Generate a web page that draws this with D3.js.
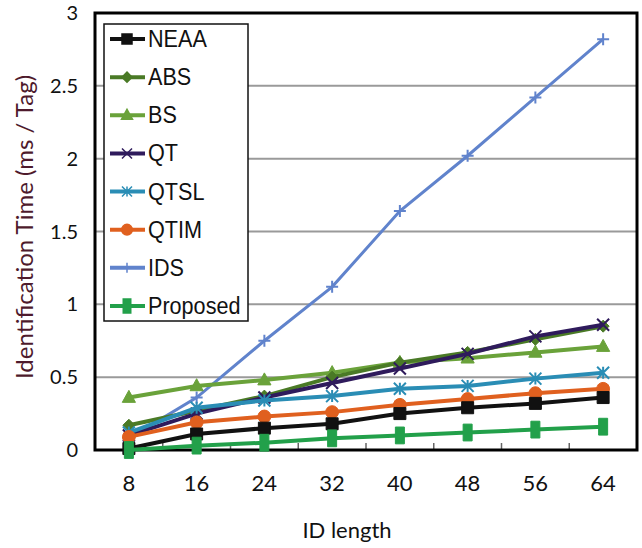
<!DOCTYPE html>
<html>
<head>
<meta charset="utf-8">
<script src="https://cdn.jsdelivr.net/npm/d3@7"></script>
<style>
  body { margin: 0; background: #fff; }
  svg text { font-family: Lato, "Open Sans", sans-serif; }
</style>
</head>
<body>
<svg id="chart" width="642" height="548"></svg>
<script>
// Data
var idLengths = [8, 16, 24, 32, 40, 48, 56, 64];
var yTicks    = [0, 0.5, 1, 1.5, 2, 2.5, 3];

var neaa     = [0.01, 0.11, 0.15, 0.18, 0.25, 0.29, 0.32, 0.36];
var abs      = [0.17, 0.27, 0.37, 0.50, 0.60, 0.67, 0.76, 0.85];
var bs       = [0.36, 0.44, 0.48, 0.53, 0.60, 0.63, 0.67, 0.71];
var qt       = [0.10, 0.25, 0.36, 0.46, 0.56, 0.66, 0.78, 0.86];
var qtsl     = [0.12, 0.29, 0.34, 0.37, 0.42, 0.44, 0.49, 0.53];
var qtim     = [0.09, 0.19, 0.23, 0.26, 0.31, 0.35, 0.39, 0.42];
var ids      = [0.08, 0.36, 0.75, 1.12, 1.64, 2.02, 2.42, 2.82];
var proposed = [0.00, 0.03, 0.05, 0.08, 0.10, 0.12, 0.14, 0.16];

var seriesNames = ['NEAA', 'ABS', 'BS', 'QT', 'QTSL', 'QTIM', 'IDS', 'Proposed'];

// styles per series
var series = [
  { name: 'NEAA',     values: neaa,     color: '#111111', marker: 'square' },
  { name: 'ABS',      values: abs,      color: '#4a7a26', marker: 'diamond' },
  { name: 'BS',       values: bs,       color: '#6aa23a', marker: 'triangle' },
  { name: 'QT',       values: qt,       color: '#2f1b5c', marker: 'cross' },
  { name: 'QTSL',     values: qtsl,     color: '#2a8db5', marker: 'star' },
  { name: 'QTIM',     values: qtim,     color: '#e0601f', marker: 'circle' },
  { name: 'IDS',      values: ids,      color: '#6083cc', marker: 'plus' },
  { name: 'Proposed', values: proposed, color: '#22a04a', marker: 'bar' }
];
// draw order: IDS behind the rest, like in the picture
var drawOrder = ['IDS', 'BS', 'ABS', 'QT', 'QTSL', 'QTIM', 'NEAA', 'Proposed'];

var svg = d3.select('#chart');
var L = 95, T = 13, R = 637, B = 450;

var x = d3.scaleBand().domain(idLengths).range([L, R]);
var y = d3.scaleLinear().domain([0, 3]).range([B, T]);

// grid lines
svg.append('g').selectAll('line')
  .data(yTicks.filter(function(d){ return d > 0 && d < 3; }))
  .enter().append('line')
  .attr('x1', L).attr('x2', R)
  .attr('y1', function(d){ return y(d); })
  .attr('y2', function(d){ return y(d); })
  .style('stroke', '#9a9a9a')
  .style('stroke-width', 2);

// y tick labels
svg.append('g').selectAll('text')
  .data(yTicks)
  .enter().append('text')
  .attr('x', 78)
  .attr('y', function(d){ return y(d) + 7; })
  .attr('text-anchor', 'end')
  .style('font-size', '20px')
  .style('fill', '#111')
  .text(function(d){ return d; });

// small x ticks between categories
svg.append('g').selectAll('line')
  .data(idLengths.slice(1))
  .enter().append('line')
  .attr('x1', function(d){ return x(d); })
  .attr('x2', function(d){ return x(d); })
  .attr('y1', B).attr('y2', B - 7)
  .style('stroke', '#666')
  .style('stroke-width', 1.5);

// x tick labels
svg.append('g').selectAll('text')
  .data(idLengths)
  .enter().append('text')
  .attr('x', function(d){ return x(d) + x.bandwidth() / 2; })
  .attr('y', 491)
  .attr('text-anchor', 'middle')
  .style('font-size', '22px')
  .style('fill', '#111')
  .text(function(d){ return d; });

// plot frame
svg.append('rect')
  .attr('x', L).attr('y', T)
  .attr('width', R - L).attr('height', B - T)
  .style('fill', 'none')
  .style('stroke', '#000')
  .style('stroke-width', 3);

function markerPath(type, size) {
  var s = size;
  switch (type) {
    case 'square':   return 'M' + (-s) + ',' + (-s) + 'h' + (2*s) + 'v' + (2*s) + 'h' + (-2*s) + 'Z';
    case 'diamond':  return 'M0,' + (-s) + 'L' + s + ',0L0,' + s + 'L' + (-s) + ',0Z';
    case 'triangle': return 'M0,' + (-s*1.2) + 'L' + (s*1.1) + ',' + (s*0.8) + 'L' + (-s*1.1) + ',' + (s*0.8) + 'Z';
    case 'circle':   return d3.symbol().type(d3.symbolCircle).size(s * s * 3.6)();
    case 'bar':      return 'M' + (-s*0.75) + ',' + (-s*1.4) + 'h' + (s*1.5) + 'v' + (s*2.8) + 'h' + (-s*1.5) + 'Z';
    case 'cross':    return 'M' + (-s) + ',' + (-s) + 'L' + s + ',' + s + 'M' + s + ',' + (-s) + 'L' + (-s) + ',' + s;
    case 'plus':     return 'M0,' + (-s) + 'V' + s + 'M' + (-s) + ',0H' + s;
    case 'star':     return 'M' + (-s) + ',' + (-s) + 'L' + s + ',' + s + 'M' + s + ',' + (-s) + 'L' + (-s) + ',' + s + 'M0,' + (-s) + 'V' + s;
  }
}
var filled = { square: 1, diamond: 1, triangle: 1, circle: 1, bar: 1 };

var line = d3.line()
  .x(function(d, i){ return x(idLengths[i]) + x.bandwidth() / 2; })
  .y(function(d){ return y(d); });

var byName = {};
series.forEach(function(s){ byName[s.name] = s; });

drawOrder.forEach(function(name){
  var s = byName[name];
  var g = svg.append('g');
  g.append('path')
    .attr('d', line(s.values))
    .style('fill', 'none')
    .style('stroke', s.color)
    .style('stroke-width', name === 'IDS' ? 3 : 4);
  g.selectAll('path.m')
    .data(s.values)
    .enter().append('path')
    .attr('class', 'm')
    .attr('transform', function(d, i){
      return 'translate(' + (x(idLengths[i]) + x.bandwidth() / 2) + ',' + y(d) + ')';
    })
    .attr('d', markerPath(s.marker, 6))
    .style('fill', filled[s.marker] ? s.color : 'none')
    .style('stroke', s.color)
    .style('stroke-width', filled[s.marker] ? 1 : 2);
});

// legend
var lg = svg.append('g');
lg.append('rect')
  .attr('x', 104).attr('y', 24)
  .attr('width', 144).attr('height', 297)
  .style('fill', '#fff')
  .style('stroke', '#111')
  .style('stroke-width', 1.5);

var ly = d3.scalePoint().domain(seriesNames).range([39, 306]);
var items = lg.selectAll('g.item')
  .data(series)
  .enter().append('g')
  .attr('class', 'item')
  .attr('transform', function(d){ return 'translate(0,' + ly(d.name) + ')'; });
items.append('line')
  .attr('x1', 110).attr('x2', 145)
  .style('stroke', function(d){ return d.color; })
  .style('stroke-width', 4);
items.append('path')
  .attr('transform', 'translate(127,0)')
  .attr('d', function(d){ return markerPath(d.marker, 5); })
  .style('fill', function(d){ return filled[d.marker] ? d.color : 'none'; })
  .style('stroke', function(d){ return d.color; })
  .style('stroke-width', 1.5);
items.append('text')
  .attr('transform', 'translate(148,8) scale(0.9,1)')
  .style('font-family', '"Liberation Sans", Arial, sans-serif')
  .style('font-size', '24px')
  .style('fill', '#111')
  .text(function(d){ return d.name; });

// axis titles
svg.append('text')
  .attr('transform', 'translate(33,227) rotate(-90)')
  .attr('text-anchor', 'middle')
  .style('font-size', '24px')
  .style('fill', '#4e1a2c')
  .text('Identification Time (ms / Tag)');

svg.append('text')
  .attr('x', 347).attr('y', 538)
  .attr('text-anchor', 'middle')
  .style('font-size', '22px')
  .style('fill', '#111')
  .text('ID length');
</script>
</body>
</html>
